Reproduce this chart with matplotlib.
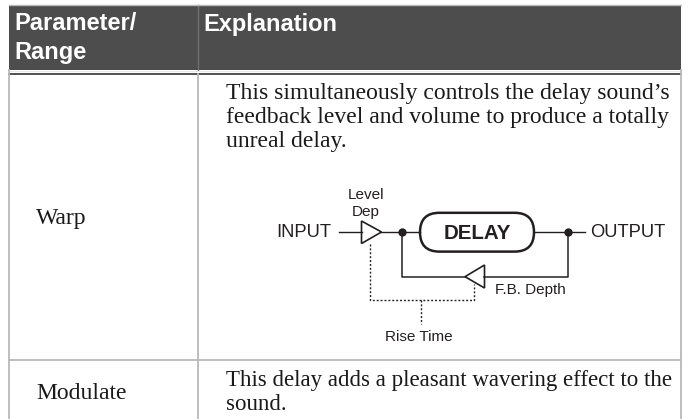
import matplotlib
matplotlib.use('Agg')
import matplotlib.pyplot as plt
from matplotlib.patches import Rectangle, Polygon, FancyBboxPatch

# table text
header_labels = ['Parameter/', 'Range', 'Explanation']
row_names = ['Warp', 'Modulate']
warp_lines = ["This simultaneously controls the delay sound\u2019s",
              "feedback level and volume to produce a totally",
              "unreal delay."]
modulate_lines = ["This delay adds a pleasant wavering effect to the",
                  "sound."]

# diagram labels
block_label = 'DELAY'
input_label = 'INPUT'
output_label = 'OUTPUT'
level_labels = ['Level', 'Dep']
depth_label = 'F.B. Depth'
rise_label = 'Rise Time'

W, H = 688, 419
GREY = '#b9b9b9'
DARK = '#231f20'
INK = '#1a1a1a'
SERIF = 'Liberation Serif'
SANS = 'Liberation Sans'
PITCH = 24.4

fig = plt.figure(figsize=(W / 100, H / 100), dpi=100)
ax = fig.add_axes([0, 0, 1, 1])
ax.set_xlim(0, W)
ax.set_ylim(H, 0)
ax.axis('off')

# header band
ax.add_patch(Rectangle((8.5, 5.5), 672.5, 65, fc='#4d4d4d', ec='none'))
ax.plot([197.5, 197.5], [5.5, 70.5], color='#707070', lw=1)
ax.plot([8.5, 681], [5.5, 5.5], color=GREY, lw=1)

# grid lines
ax.plot([8.5, 681], [71, 71], color='#e8e8e8', lw=0.8)
ax.plot([8.5, 681], [74, 74], color='#333333', lw=1.2)
for x in [8.5, 197.5, 681]:
    ax.plot([x, x], [70 if x != 197.5 else 74, H], color=GREY, lw=1.3)
ax.plot([8.5, 681], [360, 360], color=GREY, lw=1.3)

# header text
head = dict(family=SANS, weight='bold', size=17, color='white', va='baseline')
ax.text(14.5, 30.5, header_labels[0], **head)
ax.text(14.5, 59, header_labels[1], **head)
ax.text(203.5, 30.5, header_labels[2], **head)

# body text
body = dict(family=SERIF, color=INK, va='baseline')
for i, line in enumerate(warp_lines):
    ax.text(226, 98.5 + i * PITCH, line, size=17.05, **body)
ax.text(36, 224, row_names[0], size=17, **body)
ax.text(36, 399, row_names[1], size=17, **body)
for i, line in enumerate(modulate_lines):
    ax.text(226, 386 + i * PITCH, line, size=16.45, **body)

# delay block diagram
ax.add_patch(FancyBboxPatch((420, 212.8), 114, 38.8, boxstyle='round,pad=0,rounding_size=19.4',
                            fc='white', ec=DARK, lw=1.8))
ax.text(477.5, 233, block_label, family=SANS, weight='bold', size=14.8, color=DARK,
        ha='center', va='center')

ax.plot([339, 362], [232, 232], color=DARK, lw=1)
ax.plot([381, 420], [232, 232], color=DARK, lw=1)
ax.plot([534, 585], [232, 232], color=DARK, lw=1)
ax.plot([402, 402, 465], [232, 276.7, 276.7], color=DARK, lw=1.1)
ax.plot([484, 568, 568], [276.7, 276.7, 232], color=DARK, lw=1.1)
ax.plot([402, 568], [232, 232], 'o', color=DARK, ms=6, mew=0)

ax.add_patch(Polygon([(361.5, 221), (361.5, 243.5), (381.5, 232)], closed=True, fc='white', ec=DARK, lw=1.2))
ax.add_patch(Polygon([(484.5, 265), (484.5, 288), (465, 276.7)], closed=True, fc='white', ec=DARK, lw=1.2))

# rise time control (dotted)
dots = dict(color=DARK, lw=1, dashes=(1.4, 1.4))
ax.plot([370, 370, 474, 474], [244, 299.5, 299.5, 284], **dots)
ax.plot([421, 421], [299.5, 324], **dots)

ax.text(331.5, 232.5, input_label, family=SANS, size=13.2, color=DARK, ha='right', va='center')
ax.text(590, 232.5, output_label, family=SANS, size=13.2, color=DARK, ha='left', va='center')
ax.text(366, 195, level_labels[0], family=SANS, size=11, color=DARK, ha='center', va='center')
ax.text(366, 212, level_labels[1], family=SANS, size=11, color=DARK, ha='center', va='center')
ax.text(495, 290, depth_label, family=SANS, size=11, color=DARK, ha='left', va='center')
ax.text(419, 336.5, rise_label, family=SANS, size=11, color=DARK, ha='center', va='center')

fig.savefig('out.png', dpi=100)
